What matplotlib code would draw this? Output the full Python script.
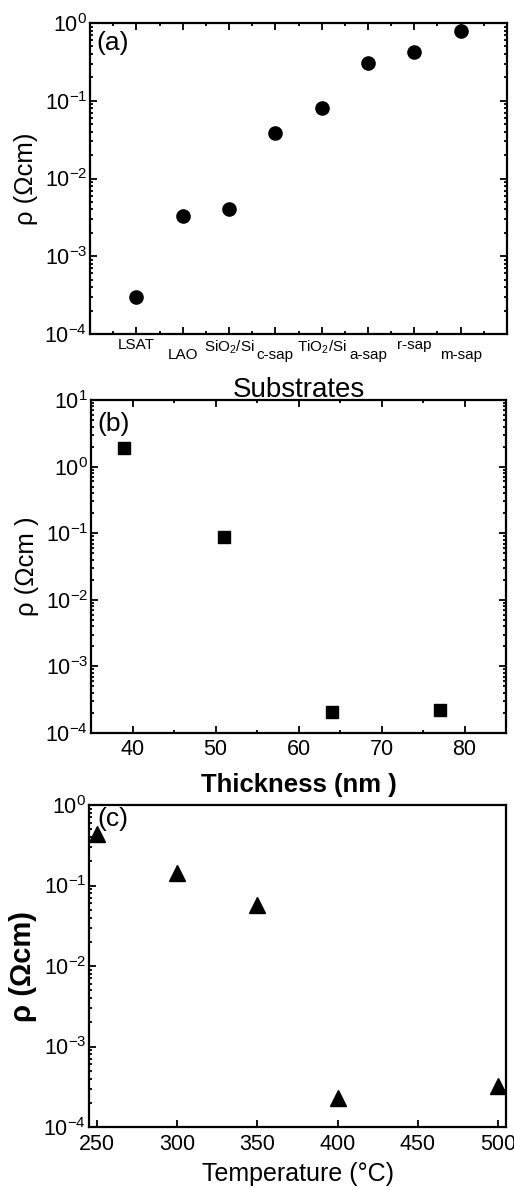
import matplotlib
matplotlib.use("Agg")
import math
import matplotlib.pyplot as plt
from matplotlib.ticker import LogLocator, FuncFormatter, MultipleLocator, NullFormatter

plt.rcParams['font.family'] = ['Liberation Sans', 'DejaVu Sans']
plt.rcParams['mathtext.fontset'] = 'custom'
plt.rcParams['mathtext.rm'] = 'Liberation Sans'
plt.rcParams['mathtext.it'] = 'Liberation Sans:italic'
plt.rcParams['mathtext.bf'] = 'Liberation Sans:bold'

# ---- data ----
substrates = ['LSAT', 'LAO', 'SiO$_2$/Si', 'c-sap', 'TiO$_2$/Si', 'a-sap', 'r-sap', 'm-sap']
rho_substrate = [3.0e-4, 3.3e-3, 4.0e-3, 0.038, 0.081, 0.31, 0.42, 0.79]

thickness_nm = [39, 51, 64, 77]
rho_thickness = [1.88, 0.089, 2.1e-4, 2.25e-4]

temperature_c = [250, 300, 350, 400, 500]
rho_temperature = [0.44, 0.145, 0.057, 2.3e-4, 3.2e-4]

W, H = 514, 1187
fig = plt.figure(figsize=(W / 100, H / 100), dpi=100)

def add_ax(l, r, t, b):
    return fig.add_axes([l / W, (H - b) / H, (r - l) / W, (b - t) / H])

def logfmt(v, pos):
    e = int(round(math.log10(v)))
    return '10$^{%d}$' % e

def style_log(ax, right=True, top=True):
    ax.set_yscale('log')
    ax.yaxis.set_major_locator(LogLocator(base=10, numticks=20))
    ax.yaxis.set_minor_locator(LogLocator(base=10, subs=range(2, 10), numticks=20))
    ax.yaxis.set_major_formatter(FuncFormatter(logfmt))
    ax.yaxis.set_minor_formatter(NullFormatter())
    ax.tick_params(which='both', direction='in', right=right, top=top, width=1.3)
    ax.tick_params(which='major', length=5, labelsize=15.5, pad=2)
    ax.tick_params(which='minor', length=2.5)
    for s in ax.spines.values():
        s.set_linewidth(1.6)

# ---- (a) ----
ax1 = add_ax(90, 507, 23, 334)
ax1.set_facecolor('none')
xpos = list(range(1, len(substrates) + 1))
ax1.plot(xpos, rho_substrate, 'o', color='black', markersize=9.5, linestyle='none')
style_log(ax1)
ax1.set_ylim(1e-4, 1e0)
ax1.set_xlim(0, 9)
ax1.set_xticks(xpos)
ax1.set_xticklabels(substrates, fontsize=11)
ax1.xaxis.set_minor_locator(MultipleLocator(0.5))
for i, tk in enumerate(ax1.xaxis.get_major_ticks()):
    tk.set_pad(3 if i % 2 == 0 else 10)
ax1.set_ylabel('ρ (Ωcm)', fontsize=18.5)
ax1.yaxis.set_label_coords(-0.125, 0.5)
ax1.set_xlabel('Substrates', fontsize=20)
ax1.xaxis.set_label_coords(0.5, -0.138)
ax1.text(0.015, 0.975, '(a)', transform=ax1.transAxes, fontsize=19, va='top', ha='left')

# ---- (b) ----
ax2 = add_ax(91, 506, 400, 733)
ax2.set_facecolor('none')
ax2.plot(thickness_nm, rho_thickness, 's', color='black', markersize=8.5, linestyle='none')
style_log(ax2)
ax2.set_ylim(1e-4, 1e1)
ax2.set_xlim(35, 85)
ax2.xaxis.set_major_locator(MultipleLocator(10))
ax2.xaxis.set_minor_locator(MultipleLocator(5))
ax2.tick_params(axis='x', which='major', pad=4)
ax2.set_ylabel('ρ (Ωcm )', fontsize=18.5)
ax2.yaxis.set_label_coords(-0.125, 0.5)
ax2.set_xlabel('Thickness (nm )', fontsize=18.5, fontweight='bold')
ax2.xaxis.set_label_coords(0.5, -0.12)
ax2.text(0.015, 0.965, '(b)', transform=ax2.transAxes, fontsize=19, va='top', ha='left')

# ---- (c) ----
ax3 = add_ax(89, 506, 805, 1127)
ax3.set_facecolor('none')
ax3.plot(temperature_c, rho_temperature, '^', color='black', markersize=11, linestyle='none')
style_log(ax3, right=False, top=False)
ax3.set_ylim(1e-4, 1e0)
ax3.set_xlim(245, 505)
ax3.xaxis.set_major_locator(MultipleLocator(50))
ax3.tick_params(axis='x', which='minor', bottom=False)
ax3.tick_params(axis='x', which='major', pad=5)
ax3.set_ylabel('ρ (Ωcm)', fontsize=21, fontweight='bold')
ax3.yaxis.set_label_coords(-0.125, 0.5)
ax3.set_xlabel('Temperature (°C)', fontsize=18)
ax3.xaxis.set_label_coords(0.5, -0.108)
ax3.text(0.02, 0.995, '(c)', transform=ax3.transAxes, fontsize=19, va='top', ha='left')

fig.savefig('out.png', dpi=100)
